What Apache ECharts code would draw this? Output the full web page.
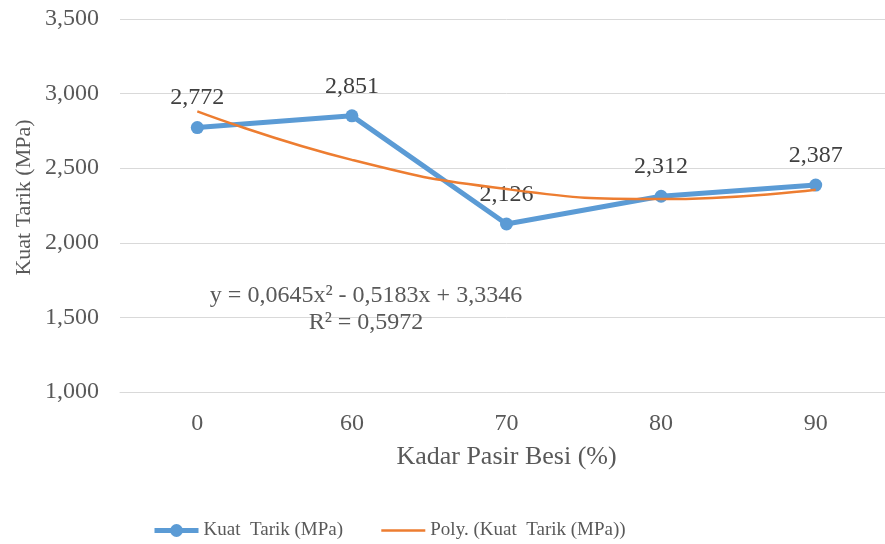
<!DOCTYPE html>
<html><head><meta charset="utf-8">
<script src="https://cdn.jsdelivr.net/npm/echarts@6/dist/echarts.min.js"></script>
<style>html,body{margin:0;padding:0;background:#fff;overflow:hidden}#c{width:893px;height:544px}</style>
</head><body><div id="c"></div>
<script>
const categories = ['0', '60', '70', '80', '90'];
const kuatTarik = [2.772, 2.851, 2.126, 2.312, 2.387];
const polyTrend = [2.881, 2.556, 2.360, 2.293, 2.356];
const yMin = 1.0, yMax = 3.5, yStep = 0.5;
const xTitle = 'Kadar Pasir Besi (%)';
const yTitle = 'Kuat Tarik (MPa)';
const seriesName = 'Kuat  Tarik (MPa)';
const trendName = 'Poly. (Kuat  Tarik (MPa))';
const equationText = 'y = 0,0645x² - 0,5183x + 3,3346\nR² = 0,5972';

const FONT = "'Liberation Serif', 'Times New Roman', serif";
const fmt = v => Number(v).toFixed(3).replace('.', ',');

const chart = echarts.init(document.getElementById('c'), null, {renderer: 'canvas'});
chart.setOption({
  animation: false,
  backgroundColor: '#fff',
  textStyle: {fontFamily: FONT},
  grid: {left: 120, top: 19, right: 0, height: 373, containLabel: false},
  legend: {
    left: 147, top: 516,
    itemWidth: 44, itemHeight: 16, itemGap: 37,
    textStyle: {fontFamily: FONT, fontSize: 19, color: '#595959'},
    data: [
      {name: seriesName, lineStyle: {width: 5}},
      {name: trendName, lineStyle: {width: 2.5}, itemStyle: {opacity: 0}}
    ]
  },
  xAxis: {
    type: 'category',
    data: categories,
    boundaryGap: true,
    axisLine: {show: true, lineStyle: {color: '#d9d9d9', width: 1}},
    axisTick: {show: false},
    axisLabel: {margin: 20, fontSize: 24, color: '#595959', fontFamily: FONT},
    name: xTitle,
    nameLocation: 'middle',
    nameGap: 52,
    nameTextStyle: {fontSize: 26, color: '#595959', fontFamily: FONT}
  },
  yAxis: {
    type: 'value',
    min: yMin, max: yMax, interval: yStep,
    axisLine: {show: false},
    axisTick: {show: false},
    splitLine: {lineStyle: {color: '#d9d9d9', width: 1}},
    axisLabel: {margin: 21, fontSize: 24, color: '#595959', fontFamily: FONT, formatter: fmt, padding: [5, 0, 0, 0]}
  },
  series: [
    {
      name: seriesName,
      type: 'line',
      data: kuatTarik,
      color: '#5B9BD5',
      lineStyle: {width: 5, color: '#5B9BD5'},
      symbol: 'circle',
      symbolSize: 13,
      itemStyle: {color: '#5B9BD5'},
      z: 2,
      label: {
        show: true, position: 'top', distance: 11,
        fontSize: 24, color: '#404040', fontFamily: FONT,
        formatter: p => fmt(p.value)
      }
    },
    {
      name: trendName,
      type: 'line',
      data: polyTrend,
      smooth: true,
      symbol: 'none',
      color: '#ED7D31',
      lineStyle: {width: 2.5, color: '#ED7D31'},
      z: 3,
      silent: true
    }
  ],
  graphic: [
    {
      type: 'text',
      x: 366, y: 282,
      style: {
        text: equationText,
        align: 'center',
        verticalAlign: 'top',
        font: '24px ' + FONT,
        lineHeight: 27,
        fill: '#595959'
      },
      z: 10
    },
    {
      type: 'text',
      x: 24, y: 197.5,
      rotation: Math.PI / 2,
      style: {
        text: yTitle,
        align: 'center',
        verticalAlign: 'middle',
        font: '22px ' + FONT,
        fill: '#595959'
      }
    }
  ]
});
</script></body></html>
